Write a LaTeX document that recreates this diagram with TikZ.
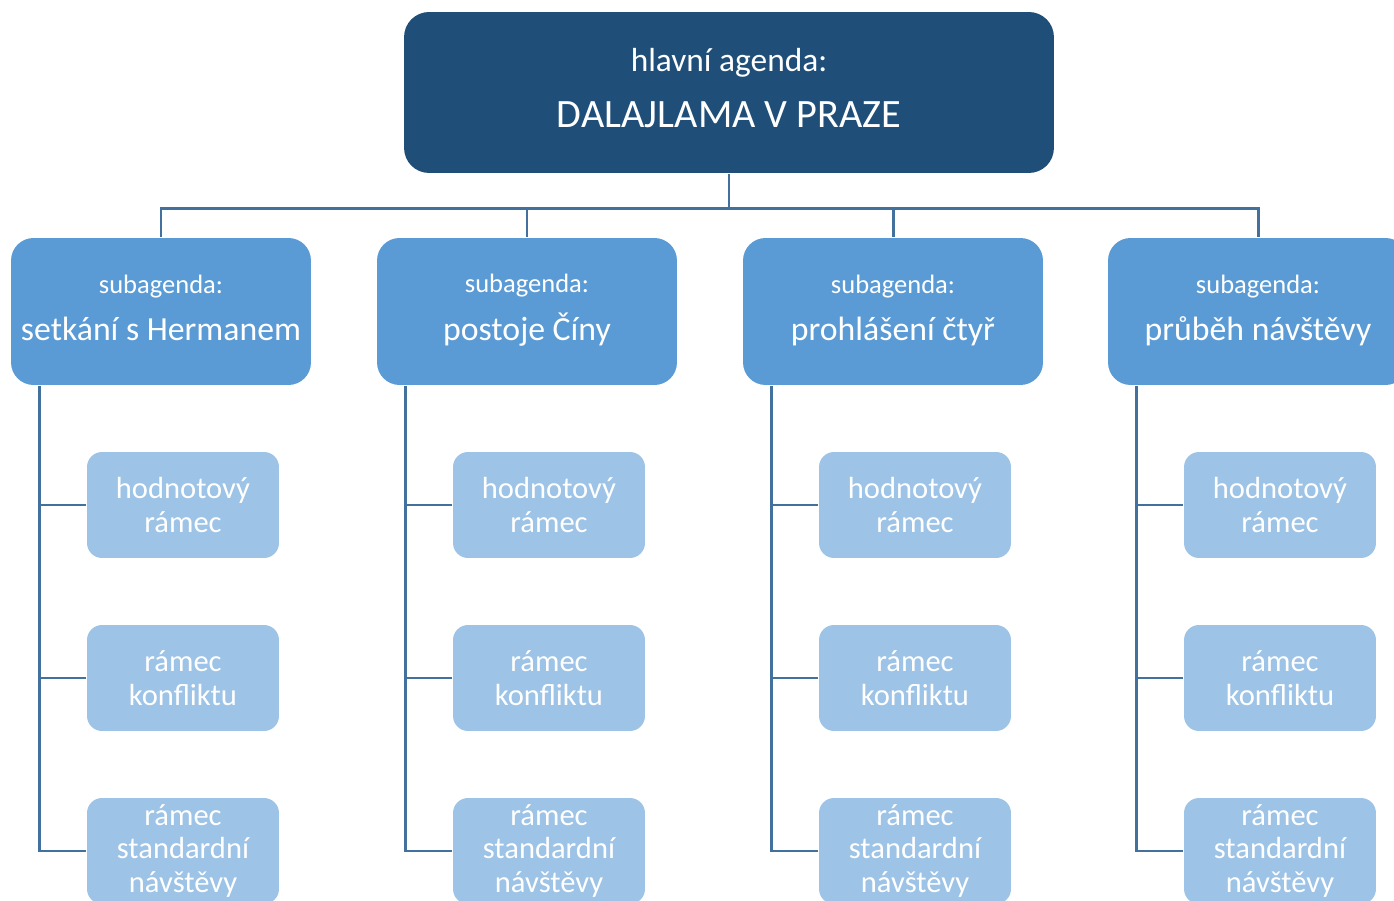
\documentclass[tikz,border=0pt]{standalone}
\usepackage{fontspec}
\setmainfont{Carlito}
\definecolor{dark1}{RGB}{31, 78, 121}
\definecolor{mid1}{RGB}{91, 155, 213}
\definecolor{light1}{RGB}{157, 195, 230}
\definecolor{line1}{RGB}{65, 113, 156}

\begin{document}
\begin{tikzpicture}[x=0.02cm, y=-0.02cm, line width=1.7pt,
  mainbox/.style={rectangle, rounded corners=0.5cm, fill=dark1, text=white,
    minimum width=13cm, minimum height=3.22cm, inner sep=0pt, align=center},
  subbox/.style={rectangle, rounded corners=0.45cm, fill=mid1, text=white,
    minimum width=6cm, minimum height=2.94cm, inner sep=0pt, align=center},
  leafbox/.style={rectangle, rounded corners=0.3cm, fill=light1, text=white,
    minimum width=3.84cm, minimum height=2.12cm, inner sep=0pt, align=center,
    font=\fontsize{17.4}{19}\selectfont},
  conn/.style={draw=line1}]
  \clip (0,0) rectangle (1394,901);

  \node[mainbox] (main) at (729,92.5)
{\fontsize{19}{22}\selectfont\strut hlavní agenda:\\[6pt]\fontsize{22.9}{26}\selectfont\strut DALAJLAMA V PRAZE};

  \foreach \i/\cx/\name in {1/161/setkání s Hermanem, 2/527/postoje Číny,
    3/893/prohlášení čtyř, 4/1258/průběh návštěvy}
  {
    \node[subbox] (s\i) at (\cx,311.5)
{\fontsize{15.1}{18}\selectfont\strut subagenda:\\[5pt]\fontsize{19.2}{22}\selectfont\strut \name};
    \draw[conn] (main.south) -- ++(0,34) -| (s\i.north);
    \foreach \j/\ly/\leaf in {1/505/{hodnotový\\rámec}, 2/678/{rámec\\konfliktu},
      3/851/{rámec\\standardní\\návštěvy}}
    {
      \node[leafbox] (l\i\j) at (\cx+22,\ly) {\leaf};
      \draw[conn] (s\i.south west) ++(30,0) |- (l\i\j.west);
    }
  }
\end{tikzpicture}
\end{document}
